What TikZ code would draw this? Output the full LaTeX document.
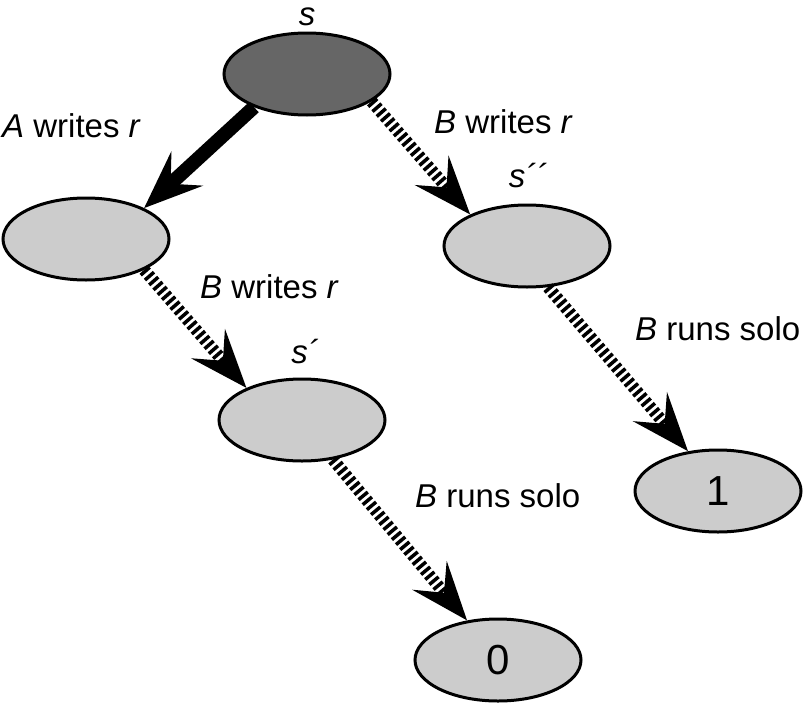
\documentclass[tikz,border=0pt]{standalone}
\usepackage{fontspec}
\setmainfont{Liberation Sans}
\usetikzlibrary{arrows.meta,shapes.geometric}
\begin{document}
\begin{tikzpicture}[x=1pt,y=-1pt,
  state/.style={ellipse,draw=black,line width=3pt,fill=lightfill,minimum width=166pt,minimum height=82pt,inner sep=0pt},
  lbl/.style={inner sep=0pt,font=\fontsize{33}{40}\selectfont},
  digit/.style={font=\fontsize{42}{48}\selectfont},
  solidarrow/.style={line width=14pt,-{Stealth[length=58pt,width=46pt,inset=22pt]}},
  dasharrow/.style={line width=12pt,dash pattern=on 3.5pt off 3pt,-{Stealth[length=58pt,width=44pt,inset=22pt]}}
]
\definecolor{lightfill}{HTML}{CCCCCC}
\definecolor{darkfill}{HTML}{666666}
\useasboundingbox (0,0) rectangle (805,704);
\fill[white] (0,0) rectangle (805,704);
\node[state,fill=darkfill] (s) at (307,74) {};
\node[state] (l) at (86,239) {};
\node[state] (s2) at (527,246) {};
\node[state] (s1) at (302,420) {};
\node[state] (one) at (718,491) {};
\node[state] (zero) at (498,660) {};
\node[digit] at (one) {1};
\node[digit] at (zero) {0};
\draw[solidarrow] (s.212) -- (l.28.5);
\draw[dasharrow] (s.-23) -- (s2.151);
\draw[dasharrow] (l.-28) -- (s1.150.7);
\draw[dasharrow] (s1.-52) -- (zero.128);
\draw[dasharrow] (s2.-63) -- (one.127.5);
\node[lbl,anchor=base,text height=17pt,text depth=0pt] (ls) at (307,25) {\textit{s}};
\node[lbl,anchor=base west] (law) at (2,137) {\textit{A} writes \textit{r}};
\node[lbl,anchor=base west] (lbw1) at (434,133) {\textit{B} writes \textit{r}};
\node[lbl,anchor=base] (lss) at (528,187) {\textit{s´´}};
\node[lbl,anchor=base west] (lbw2) at (200,298) {\textit{B} writes \textit{r}};
\node[lbl,anchor=base] (lsp) at (305,363) {\textit{s´}};
\node[lbl,anchor=base west] (lbr1) at (635,340) {\textit{B} runs solo};
\node[lbl,anchor=base west] (lbr2) at (415,507) {\textit{B} runs solo};
\end{tikzpicture}
\end{document}
